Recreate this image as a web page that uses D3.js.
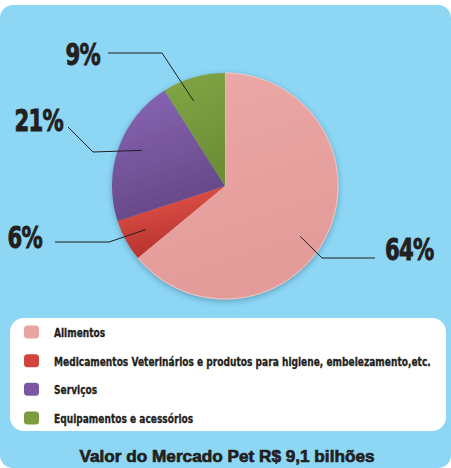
<html>
<head>
<style>
  body { margin: 0; background: #fff; }
  text { font-family: "Liberation Sans Narrow", "DejaVu Sans Condensed", sans-serif; fill: #231f20; }
</style>
</head>
<body>
<svg id="chart" width="451" height="468"></svg>
<script src="https://cdn.jsdelivr.net/npm/d3@7/dist/d3.min.js"></script>
<script>
// data
const categories = ["Alimentos", "Medicamentos Veterinários e produtos para higiene, embelezamento,etc.", "Serviços", "Equipamentos e acessórios"]
const shares = [64, 6, 21, 9]
const colors = ["#e9a4a2", "#d2433c", "#7a56a5", "#7b9d3f"]
const gradTop = ["#eba9a7", "#e8574d", "#8a66b6", "#82a746"]
const gradBottom = ["#e39b99", "#b5322e", "#664887", "#6d8e36"]
const title = "Valor do Mercado Pet R$ 9,1 bilhões"

const svg = d3.select("#chart")
const defs = svg.append("defs")

// background panel
svg.append("rect")
    .attr("x", 0).attr("y", 5)
    .attr("width", 451).attr("height", 463)
    .attr("rx", 13)
    .attr("fill", "#8dd7f5")

// gradients + shadow
colors.forEach((c, i) => {
    let g = defs.append("linearGradient")
        .attr("id", "g" + i)
        .attr("x1", 0).attr("y1", 0).attr("x2", 0.3).attr("y2", 1)
    g.append("stop").attr("offset", "0%").attr("stop-color", gradTop[i])
    g.append("stop").attr("offset", "100%").attr("stop-color", gradBottom[i])
})
let f = defs.append("filter").attr("id", "shadow")
    .attr("x", "-20%").attr("y", "-20%").attr("width", "140%").attr("height", "140%")
f.append("feDropShadow")
    .attr("dx", 0).attr("dy", 2)
    .attr("stdDeviation", 3)
    .attr("flood-color", "#2f5f78")
    .attr("flood-opacity", 0.45)

// pie
const cx = 225, cy = 186, radius = 113
const pie = d3.pie().sort(null).value(d => d)
const arcs = pie(shares)
const arc = d3.arc().innerRadius(0).outerRadius(radius)
const inner = d3.arc().innerRadius(radius * 0.8).outerRadius(radius * 0.8)

let body = svg.append("g").attr("transform", `translate(${cx},${cy})`)
body.append("g").attr("filter", "url(#shadow)")
    .selectAll("path")
    .data(arcs)
    .enter().append("path")
    .attr("d", arc)
    .attr("fill", (d, i) => `url(#g${i})`)
    .attr("stroke", (d, i) => i == 0 ? "#f4c4c2" : "none")
    .attr("stroke-width", 1)

// labels: leader line goes from slice to elbow, then to the text
// shift = nudge of the anchor angle inside the slice (radians)
const labelLayout = [
    {shift: 0.15, elbow: [97, 72], end: [150, 72], tx: 160, ty: 74, anchor: "start"},
    {shift: 0, elbow: [-116, 56], end: [-170, 56], tx: -183, ty: 62, anchor: "end"},
    {shift: 0.06, elbow: [-132, -34], end: [-157, -59], tx: -162, ty: -55, anchor: "end"},
    {shift: -0.07, elbow: [-63, -133], end: [-117, -133], tx: -125, ty: -121, anchor: "end"}
]

arcs.forEach((d, i) => {
    let L = labelLayout[i]
    let p = inner.centroid({startAngle: d.startAngle + L.shift, endAngle: d.endAngle + L.shift})
    body.append("path")
        .attr("d", d3.line()([p, L.elbow, L.end]))
        .attr("fill", "none")
        .attr("stroke", "#231f20")
        .attr("stroke-width", 1)
    body.append("g")
        .attr("transform", `translate(${L.tx},${L.ty}) scale(0.76,1)`)
        .append("text")
        .attr("text-anchor", L.anchor)
        .attr("font-size", 31)
        .attr("font-weight", "bold")
        .attr("letter-spacing", -1)
        .style("stroke", "#231f20").style("stroke-width", 0.9)
        .text(shares[i] + "%")
})

// legend
svg.append("rect")
    .attr("x", 10).attr("y", 318)
    .attr("width", 436).attr("height", 113)
    .attr("rx", 14)
    .attr("fill", "#ffffff")

const legendY = d3.scalePoint().domain(categories).range([332, 418])
let legend = svg.selectAll(".leg")
    .data(categories)
    .enter().append("g")
    .attr("class", "leg")
    .attr("transform", d => `translate(0,${legendY(d)})`)
legend.append("rect")
    .attr("x", 24).attr("y", -6.5)
    .attr("width", 15).attr("height", 13)
    .attr("rx", 3.5)
    .attr("fill", (d, i) => colors[i])
legend.append("g")
    .attr("transform", "translate(54,5) scale(0.84,1)")
    .append("text")
    .attr("font-size", 12)
    .attr("font-weight", "bold")
    .style("stroke", "#231f20").style("stroke-width", 0.3)
    .text(d => d)

// title
svg.append("text")
    .attr("x", 227).attr("y", 462)
    .attr("text-anchor", "middle")
    .attr("font-size", 17)
    .attr("font-weight", "bold")
    .attr("textLength", 295)
    .attr("lengthAdjust", "spacingAndGlyphs")
    .style("font-family", "'Liberation Sans', Arial, sans-serif")
    .style("stroke", "#231f20").style("stroke-width", 0.7)
    .text(title)
</script>
</body>
</html>
